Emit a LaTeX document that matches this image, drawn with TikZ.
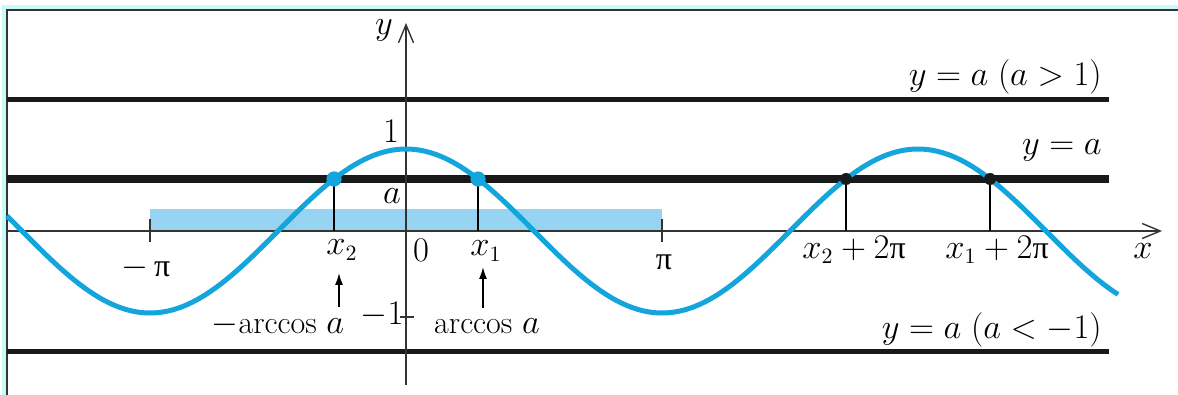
\documentclass[tikz,border=0pt]{standalone}
\usepackage{fontspec}
\newfontfamily\grk{Liberation Serif}
\usetikzlibrary{arrows.meta}
\newcommand\upi{\hbox{\grk π}}
\definecolor{cblue}{RGB}{20,165,220}
\definecolor{lblue}{RGB}{150,212,242}
\definecolor{framecyan}{RGB}{200,250,250}
\begin{document}
\begin{tikzpicture}[x={(0.5pt,0)},y={(0,-0.5pt)},
  lbl/.style={inner sep=0pt,font=\fontsize{16}{19}\selectfont},
  levelline/.style={line width=2.6pt,black!90},
  axisline/.style={line width=0.7pt,black!80},
  curve/.style={line width=2.5pt,cblue},
  guide/.style={line width=0.6pt,black},
  pointer/.style={line width=0.8pt,-{Latex[length=6pt,width=4pt]}},
  barb/.style={-{Straight Barb[length=9pt,width=7.5pt]}},
]
\useasboundingbox (0,0) rectangle (1178,395);
% frame
\fill[framecyan] (2,5) rectangle (1178,10);
\fill[framecyan] (2,5) rectangle (6,395);
\draw[line width=1pt,black!80] (6.5,395) -- (6.5,10) -- (1178,10);
% interval band
\fill[lblue] (150,209) rectangle (662,231);
% level lines
\draw[levelline] (7,99.5) -- (1109,99.5);
\draw[levelline,line width=3.8pt] (7,179) -- (1109,179);
\draw[levelline] (7,351.5) -- (1109,351.5);
% axes
\coordinate (xs) at (7,231);
\coordinate (xe) at (1162,231);
\coordinate (ys) at (406,385);
\coordinate (ye) at (406,23);
\draw[axisline,barb] (xs) -- (xe);
\draw[axisline,barb] (ys) -- (ye);
% ticks
\draw[axisline] (150,219) -- (150,242);
\draw[axisline] (662,219) -- (662,242);
\draw[axisline] (400,317) -- (414,317);
% guides
\draw[guide] (334,179) -- (334,231);
\draw[guide] (478,179) -- (478,231);
\draw[guide] (846,179) -- (846,231);
\draw[guide] (990,179) -- (990,231);
% curve
\draw[curve] plot[domain=7:1118,samples=300,variable=\t] (\t,{231-82*cos(deg((\t-406)/81.487))});
% dots
\fill[cblue] (334,179) circle (3.8pt);
\fill[cblue] (478,179) circle (3.8pt);
\fill[black!90] (846,179) circle (3pt);
\fill[black!90] (990,179) circle (3pt);
% labels
\node[lbl] (ylab) at (384,30) {$y$};
\node[lbl] (one) at (391,131) {$1$};
\node[lbl] (alab) at (392,196) {$a$};
\node[lbl] (zero) at (421,250) {$0$};
\node[lbl] (mone) at (382,315) {${-}1$};
\node[lbl] (mpi) at (146,268) {$-\,\upi$};
\node[lbl] (pi) at (664,262) {$\upi$};
\node[lbl] (x2) at (342,250) {$x_2$};
\node[lbl] (x1) at (486,251) {$x_1$};
\node[lbl] (marc) at (278,325) {$-\mathrm{arccos}\;a$};
\node[lbl] (arc) at (487,326) {$\mathrm{arccos}\;a$};
\node[lbl] (x2p) at (854,250) {$x_2 + 2\upi$};
\node[lbl] (x1p) at (997,250) {$x_1 + 2\upi$};
\node[lbl] (xlab) at (1143,251) {$x$};
\node[lbl,anchor=east] (l1) at (1102,77) {$y = a\ (a > 1)$};
\node[lbl,anchor=east] (l2) at (1102,150) {$y = a$};
\node[lbl,anchor=east] (l3) at (1102,330) {$y = a\ (a < {-}1)$};
% pointers
\coordinate (p2s) at (339,307);
\coordinate (p2e) at (339,273);
\coordinate (p1s) at (483,308);
\coordinate (p1e) at (483,267);
\draw[pointer] (p2s) -- (p2e);
\draw[pointer] (p1s) -- (p1e);
\end{tikzpicture}
\end{document}
